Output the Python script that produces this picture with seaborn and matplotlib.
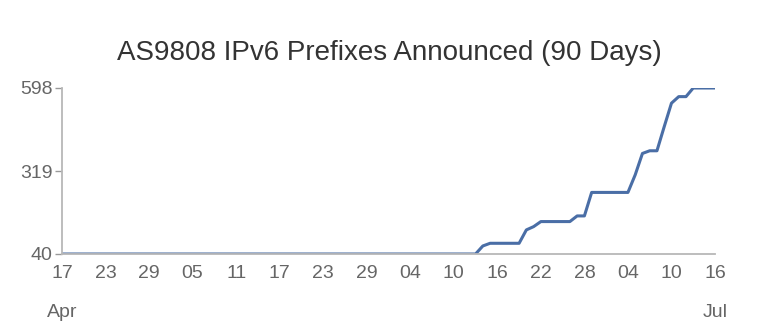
import numpy as np
import pandas as pd
import matplotlib
matplotlib.use("Agg")
import matplotlib.pyplot as plt
import seaborn as sns

# ---- data ----
start_date = "2013-04-17"
prefix_counts = [
    40, 40, 40, 40, 40, 40, 40, 40, 40, 40,   # day 0-9
    40, 40, 40, 40, 40, 40, 40, 40, 40, 40,   # 10-19
    40, 40, 40, 40, 40, 40, 40, 40, 40, 40,   # 20-29
    40, 40, 40, 40, 40, 40, 40, 40, 40, 40,   # 30-39
    40, 40, 40, 40, 40, 40, 40, 40, 40, 40,   # 40-49
    40, 40, 40, 40, 40, 40, 40, 40, 67, 76,   # 50-59
    76, 76, 76, 76, 121, 132, 149, 149, 149, 149,  # 60-69
    149, 168, 168, 247, 247, 247, 247, 247, 247, 306,  # 70-79
    378, 387, 387, 468, 547, 569, 569, 598, 598, 598,  # 80-89
    598,                                       # 90
]
y_ticks = [40, 319, 598]
title = "AS9808 IPv6 Prefixes Announced (90 Days)"

dates = pd.date_range(start_date, periods=len(prefix_counts), freq="D")
df = pd.DataFrame({"date": dates, "prefixes": prefix_counts})

sns.set_style("white")
plt.rcParams["font.family"] = ["Liberation Sans", "DejaVu Sans"]

fig = plt.figure(figsize=(7.62, 3.30), dpi=100)
ax = fig.add_axes([62 / 762, 1 - 254 / 330, (715 - 62) / 762, (254 - 88) / 330])

sns.lineplot(data=df, x="date", y="prefixes", ax=ax, color="#4a6ea6", linewidth=2.2)

ax.set_xlim(dates[0], dates[-1])
ax.set_ylim(40, 598)
ax.set_yticks(y_ticks)
ax.set_yticklabels([str(v) for v in y_ticks])

tick_dates = pd.date_range(start_date, periods=16, freq="6D")
ax.set_xticks(tick_dates)
ax.set_xticklabels([d.strftime("%d") for d in tick_dates])

grey = "#999999"
txt = "#666666"
for side in ["top", "right"]:
    ax.spines[side].set_visible(False)
for side in ["left", "bottom"]:
    ax.spines[side].set_color("#b8b8b8")
    ax.spines[side].set_linewidth(1.3)

ax.tick_params(axis="y", length=5, width=1, color=grey, labelsize=14,
               labelcolor=txt, pad=2, left=True)
ax.tick_params(axis="x", length=0, labelsize=14, labelcolor=txt, pad=8)
ax.set_xlabel("")
ax.set_ylabel("")
ax.grid(False)

ax.text(dates[0], -0.30, "Apr", transform=ax.get_xaxis_transform(),
        ha="center", va="top", fontsize=14, color=txt)
ax.text(dates[-1], -0.30, "Jul", transform=ax.get_xaxis_transform(),
        ha="center", va="top", fontsize=14, color=txt)

fig.text(389 / 762, 1 - 53 / 330, title, ha="center", va="center",
         fontsize=20, color="#333333")

fig.savefig("out.png", dpi=100)
